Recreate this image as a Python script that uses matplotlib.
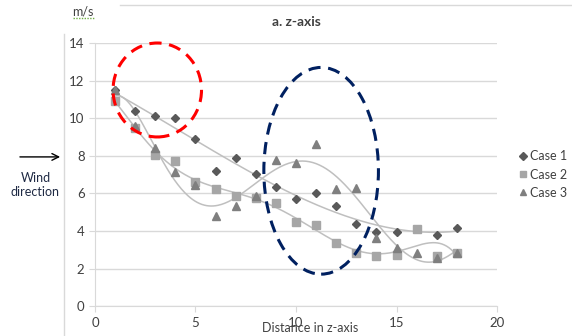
import numpy as np
import matplotlib.pyplot as plt
from matplotlib.patches import Ellipse

plt.rcParams['font.family'] = ['Lato', 'DejaVu Sans']

# data
x = np.arange(1, 19)
case1 = [11.5, 10.4, 10.1, 10.0, 8.9, 7.2, 7.9, 7.05, 6.35, 5.7, 6.0, 5.35, 4.35, 3.95, 3.95, 4.1, 3.8, 4.15]
case2 = [10.9, 9.5, 8.05, 7.7, 6.6, 6.25, 5.85, 5.75, 5.5, 4.45, 4.3, 3.35, 2.85, 2.65, 2.7, 4.1, 2.65, 2.85]
case3 = [11.5, 9.6, 8.4, 7.15, 6.45, 4.8, 5.3, 5.85, 7.8, 7.6, 8.65, 6.25, 6.3, 3.6, 3.1, 2.85, 2.55, 2.85]
labels = ['Case 1', 'Case 2', 'Case 3']
trend_deg = [3, 6, 6]

fig = plt.figure(figsize=(5.72, 3.36), dpi=100)
ax = fig.add_axes([0.166, 0.089, 0.703, 0.783])

styles = [('D', '#595959', 4.5), ('s', '#A6A6A6', 5.5), ('^', '#7F7F7F', 5.5)]
xs = np.linspace(1, 18, 300)
for ys, deg in zip([case1, case2, case3], trend_deg):
    p = np.polyfit(x, ys, deg)
    ax.plot(xs, np.polyval(p, xs), color='#BFBFBF', lw=1.1, zorder=2)
for ys, lab, (m, c, ms) in zip([case1, case2, case3], labels, styles):
    ax.plot(x, ys, ls='none', marker=m, color=c, markersize=ms, label=lab, zorder=3)

ax.set_xlim(0, 20)
ax.set_ylim(0, 14)
ax.set_xticks([0, 5, 10, 15, 20])
ax.set_yticks(range(0, 15, 2))
ax.grid(axis='y', color='#D9D9D9', lw=1)
ax.set_axisbelow(True)
for s in ['top', 'right']:
    ax.spines[s].set_visible(False)
for s in ['left', 'bottom']:
    ax.spines[s].set_color('#D9D9D9')
ax.tick_params(colors='#D9D9D9', labelcolor='#404040', labelsize=9.5, length=4)
ax.set_title('a. z-axis', fontsize=10, fontweight='bold', color='#404040', pad=12)
ax.set_xlabel('Distance in z-axis', fontsize=9, color='#404040', labelpad=-3)
ax.xaxis.set_label_coords(0.535, -0.06)

leg = ax.legend(loc='center left', bbox_to_anchor=(1.02, 0.5), frameon=False,
                fontsize=9, handletextpad=0.1, handlelength=1, labelspacing=0.5,
                markerscale=0.8)
for t in leg.get_texts():
    t.set_color('#404040')

# highlight ellipses
ax.add_patch(Ellipse((3.1, 11.5), 4.4, 5.0, fill=False, ec='#FF0000', lw=2.2,
                     ls=(0, (4, 2.5)), zorder=4, clip_on=False))
ax.add_patch(Ellipse((11.25, 7.2), 5.7, 11.0, fill=False, ec='#002060', lw=2.2,
                     ls=(0, (4, 2.5)), zorder=4))

fig.text(0.126, 0.955, 'm/s', fontsize=9, color='#404040', ha='left')
fig.add_artist(plt.Line2D([0.128, 0.165], [0.945, 0.945], color='#70AD47', lw=1,
                          ls=(0, (1, 1))))
fig.text(0.062, 0.45, 'Wind\ndirection', fontsize=9, color='#1F2A44', ha='center',
         va='center', linespacing=1.25)
fig.add_artist(plt.Line2D([0.128, 0.128], [0, 0], lw=0))
ax.annotate('', xy=(0.11, 0.533), xytext=(0.03, 0.533), xycoords='figure fraction',
            textcoords='figure fraction',
            arrowprops=dict(arrowstyle='->', color='black', lw=1, mutation_scale=12))
fig.add_artist(plt.Line2D([0.112, 0.112], [0.0, 0.9], color='#D9D9D9', lw=1))
fig.add_artist(plt.Line2D([0.21, 1.0], [0.985, 0.985], color='#D9D9D9', lw=1))

fig.savefig('out.png', dpi=100)
